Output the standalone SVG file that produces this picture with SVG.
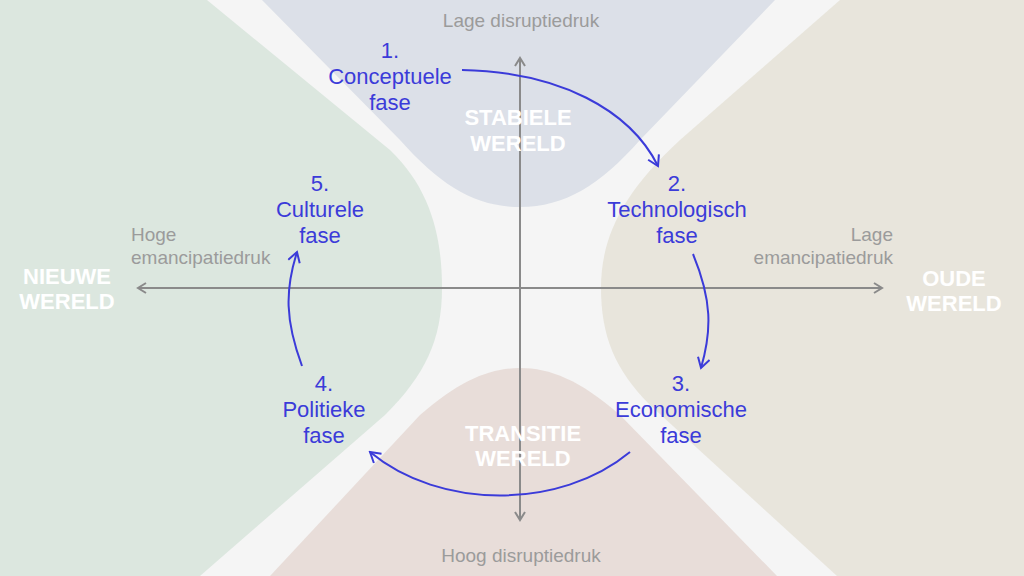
<svg xmlns="http://www.w3.org/2000/svg" width="1024" height="576" viewBox="0 0 1024 576">
<defs>
<style>
.bg{fill:#f5f5f5}
.axis{stroke:#8a8a8a;stroke-width:2;fill:none}
.flow{stroke:#3b3bd9;stroke-width:2;fill:none}
.gray{font-family:"Liberation Sans",Arial,sans-serif;font-size:19px;fill:#9b9b9b}
.world{font-family:"Liberation Sans",Arial,sans-serif;font-size:22px;font-weight:bold;fill:#ffffff}
.phase{font-family:"Liberation Sans",Arial,sans-serif;font-size:22px;fill:#3b3bd9;text-anchor:middle}
</style>
<marker id="ag" viewBox="0 0 12 12" refX="10" refY="6" markerWidth="12" markerHeight="12" markerUnits="userSpaceOnUse" orient="auto-start-reverse">
<path d="M2,1 L10,6 L2,11" fill="none" stroke="#8a8a8a" stroke-width="2"/>
</marker>
<marker id="ab" viewBox="0 0 14 14" refX="12" refY="7" markerWidth="14" markerHeight="14" markerUnits="userSpaceOnUse" orient="auto">
<path d="M2,1 L12,7 L2,13" fill="none" stroke="#3b3bd9" stroke-width="2"/>
</marker>
</defs>
<rect class="bg" x="0" y="0" width="1024" height="576"/>
<g id="regions">
<path id="nieuwe" d="M0,0 H207 L390,150 C432,190 442,240 442,288 C442,340 425,375 385,415 L200,576 H0 Z" fill="#dce7df"/>
<path id="stabiele" d="M262,0 H775 L640,140 C600,185 565,207 520,207 C475,207 440,185 400,140 Z" fill="#dce0e8"/>
<path id="oude" d="M1024,0 H840 L680,140 C620,195 601,240 601,288 C601,336 615,370 650,405 L837,576 H1024 Z" fill="#e8e5dc"/>
<path id="transitie" d="M270,576 L420,415 C460,380 490,368 520,368 C550,368 580,380 620,415 L777,576 Z" fill="#e8ddd9"/>
</g>
<g id="axes">
<line class="axis" x1="520" y1="520" x2="520" y2="58" marker-end="url(#ag)" marker-start="url(#ag)"/>
<line class="axis" x1="138" y1="288" x2="882" y2="288" marker-end="url(#ag)" marker-start="url(#ag)"/>
</g>
<g id="axis-labels">
<text class="gray" x="521" y="27" text-anchor="middle">Lage disruptiedruk</text>
<text class="gray" x="521" y="562" text-anchor="middle">Hoog disruptiedruk</text>
<text class="gray" x="131" y="241">Hoge</text>
<text class="gray" x="131" y="264">emancipatiedruk</text>
<text class="gray" x="893" y="241" text-anchor="end">Lage</text>
<text class="gray" x="893" y="264" text-anchor="end">emancipatiedruk</text>
</g>
<g id="worlds">
<text class="world" x="67" y="284" text-anchor="middle">NIEUWE</text>
<text class="world" x="67" y="309" text-anchor="middle">WERELD</text>
<text class="world" x="954" y="286" text-anchor="middle">OUDE</text>
<text class="world" x="954" y="311" text-anchor="middle">WERELD</text>
<text class="world" x="518" y="125" text-anchor="middle">STABIELE</text>
<text class="world" x="518" y="151" text-anchor="middle">WERELD</text>
<text class="world" x="523" y="441" text-anchor="middle">TRANSITIE</text>
<text class="world" x="523" y="466" text-anchor="middle">WERELD</text>
</g>
<g id="phase1"><text class="phase" x="390" y="58">1.</text><text class="phase" x="390" y="84">Conceptuele</text><text class="phase" x="390" y="110">fase</text></g>
<g id="phase2"><text class="phase" x="677" y="191">2.</text><text class="phase" x="677" y="217">Technologisch</text><text class="phase" x="677" y="243">fase</text></g>
<g id="phase3"><text class="phase" x="681" y="391">3.</text><text class="phase" x="681" y="417">Economische</text><text class="phase" x="681" y="443">fase</text></g>
<g id="phase4"><text class="phase" x="324" y="391">4.</text><text class="phase" x="324" y="417">Politieke</text><text class="phase" x="324" y="443">fase</text></g>
<g id="phase5"><text class="phase" x="320" y="191">5.</text><text class="phase" x="320" y="217">Culturele</text><text class="phase" x="320" y="243">fase</text></g>
<g id="connectors">
<path class="flow" d="M462,70 C560,72 630,110 658,166" marker-end="url(#ab)"/>
<path class="flow" d="M693,254 C712,300 712,330 701,368" marker-end="url(#ab)"/>
<path class="flow" d="M630,452 C560,510 440,510 370,452" marker-end="url(#ab)"/>
<path class="flow" d="M302,366 C285,320 285,290 297,252" marker-end="url(#ab)"/>
</g>
</svg>
